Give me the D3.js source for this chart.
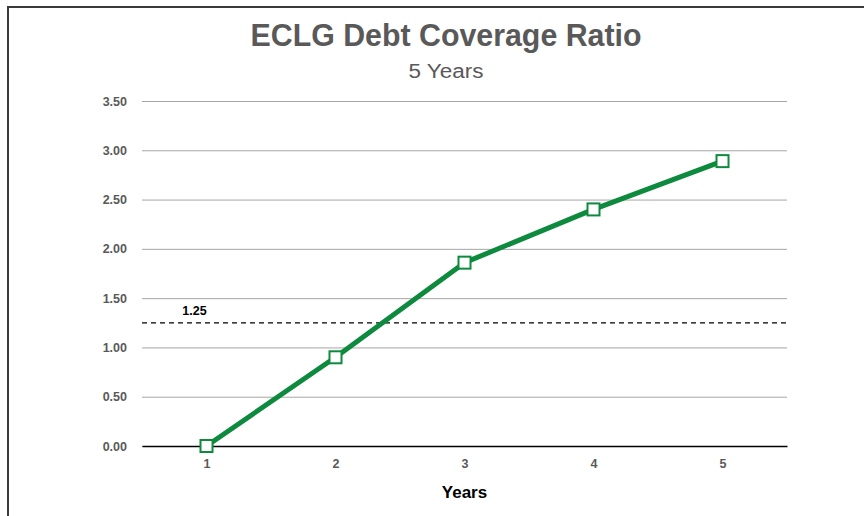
<!DOCTYPE html>
<html>
<head>
<meta charset="utf-8">
<script src="https://cdn.jsdelivr.net/npm/d3@7"></script>
<style>
  body { margin: 0; background: #fff; }
  svg { display: block; }
  text { font-family: "Liberation Sans", Arial, sans-serif; }
</style>
</head>
<body>
<div id="chart"></div>
<script>
// chart data
var years = ["1", "2", "3", "4", "5"];
var ratios = [0.00, 0.90, 1.86, 2.40, 2.89];
var yTicks = [0, 0.5, 1, 1.5, 2, 2.5, 3, 3.5];
var threshold = 1.25;

var width = 864, height = 516;
var margin = { top: 101, right: 77, bottom: 70, left: 142 };
var innerW = width - margin.left - margin.right,
  innerH = height - margin.top - margin.bottom;

var svg = d3.select("#chart")
  .append("svg")
  .attr("width", width)
  .attr("height", height);

// frame lines top / left
svg.append("path")
  .attr("d", "M8,516 L8,7 L864,7")
  .attr("fill", "none")
  .attr("stroke", "#3a3a3a")
  .attr("stroke-width", 2);

// titles
svg.append("text")
  .attr("x", 446).attr("y", 46)
  .attr("text-anchor", "middle")
  .attr("font-size", 31)
  .attr("font-weight", "bold")
  .attr("fill", "#595959")
  .attr("textLength", 391)
  .attr("lengthAdjust", "spacingAndGlyphs")
  .text("ECLG Debt Coverage Ratio");

svg.append("text")
  .attr("x", 446).attr("y", 78)
  .attr("text-anchor", "middle")
  .attr("font-size", 20)
  .attr("fill", "#595959")
  .attr("textLength", 75)
  .attr("lengthAdjust", "spacingAndGlyphs")
  .text("5 Years");

var g = svg.append("g")
  .attr("transform", "translate(" + margin.left + "," + margin.top + ")");

var x = d3.scalePoint()
  .domain(years)
  .range([0, innerW])
  .padding(0.5);

var y = d3.scaleLinear()
  .domain([0, 3.5])
  .range([innerH, 0]);

// gridlines + y labels
var yAxis = g.append("g")
  .call(d3.axisLeft(y).tickValues(yTicks).tickSize(-innerW).tickPadding(15)
    .tickFormat(d3.format(".2f")));
yAxis.select(".domain").remove();
yAxis.selectAll(".tick line")
  .attr("stroke", "#a6a6a6")
  .attr("stroke-width", 1);
yAxis.selectAll(".tick text")
  .attr("font-size", 12.5)
  .attr("font-weight", "bold")
  .attr("fill", "#595959")
  .attr("font-family", "Liberation Sans, Arial, sans-serif");

// x axis
var xAxis = g.append("g")
  .attr("transform", "translate(0," + innerH + ")")
  .call(d3.axisBottom(x).tickSize(0).tickPadding(13));
xAxis.select(".domain")
  .attr("stroke", "#000")
  .attr("stroke-width", 1.5);
xAxis.selectAll(".tick text")
  .attr("font-size", 12.5)
  .attr("font-weight", "bold")
  .attr("fill", "#595959")
  .attr("font-family", "Liberation Sans, Arial, sans-serif");

svg.append("text")
  .attr("x", margin.left + x("3")).attr("y", 498)
  .attr("text-anchor", "middle")
  .attr("font-size", 17)
  .attr("font-weight", "bold")
  .attr("fill", "#000")
  .text("Years");

// threshold line
g.append("line")
  .attr("x1", 0).attr("x2", innerW)
  .attr("y1", y(threshold)).attr("y2", y(threshold))
  .attr("stroke", "#000")
  .attr("stroke-width", 1.2)
  .attr("stroke-dasharray", "5,4");

g.append("text")
  .attr("x", x("1") - 12).attr("y", y(threshold) - 8)
  .attr("text-anchor", "middle")
  .attr("font-size", 12.5)
  .attr("font-weight", "bold")
  .attr("fill", "#000")
  .text("1.25");

// series line
var pts = years.map(function (d, i) { return { year: d, value: ratios[i] } });

g.append("path")
  .datum(pts)
  .attr("fill", "none")
  .attr("stroke", "#0e8a3e")
  .attr("stroke-width", 5)
  .attr("stroke-linejoin", "round")
  .attr("d", d3.line()
    .x(function (d) { return x(d.year) })
    .y(function (d) { return y(d.value) }));

var s = 12;
g.selectAll(".marker")
  .data(pts)
  .enter().append("rect")
  .attr("class", "marker")
  .attr("x", function (d) { return x(d.year) - s / 2 })
  .attr("y", function (d) { return y(d.value) - s / 2 })
  .attr("width", s).attr("height", s)
  .attr("fill", "#fff")
  .attr("stroke", "#0e8a3e")
  .attr("stroke-width", 2);
</script>
</body>
</html>
